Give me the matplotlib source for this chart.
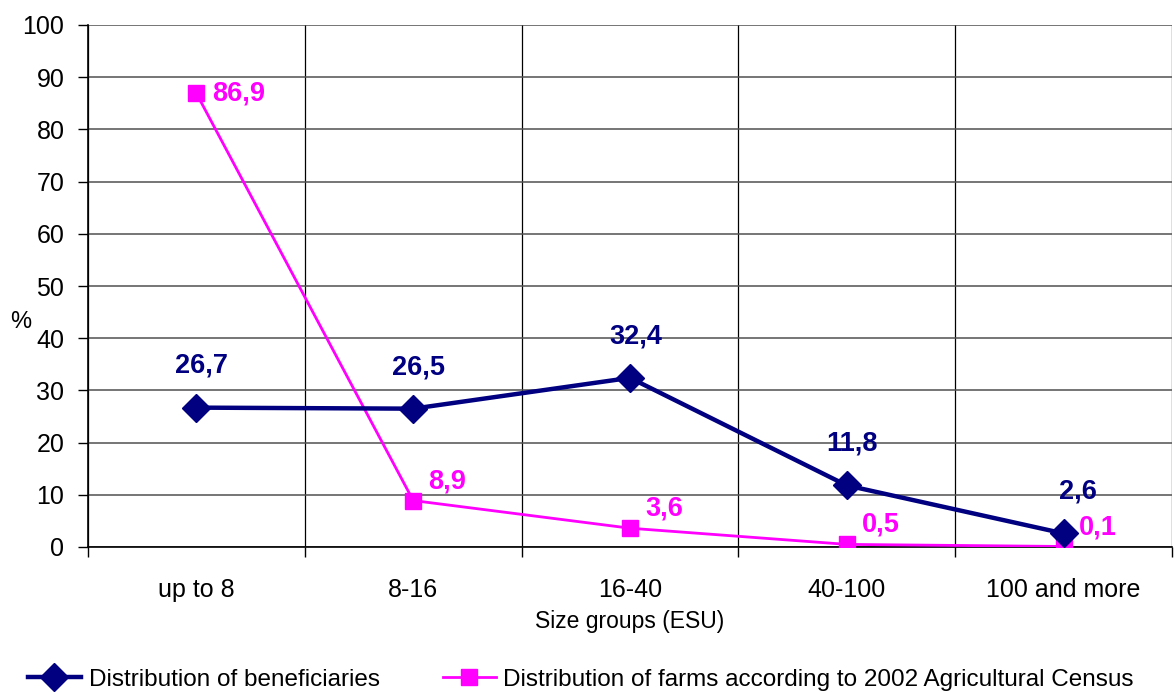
import matplotlib
matplotlib.use("Agg")
import matplotlib.pyplot as plt
from matplotlib.ticker import FixedLocator, NullFormatter

plt.rcParams['font.family'] = ['Liberation Sans', 'DejaVu Sans']

# 데이터
size_groups = ["up to 8", "8-16", "16-40", "40-100", "100 and more"]
beneficiaries = [26.7, 26.5, 32.4, 11.8, 2.6]
farms_census = [86.9, 8.9, 3.6, 0.5, 0.1]

NAVY = "#000080"
MAGENTA = "#FF00FF"

fig = plt.figure(figsize=(11.74, 6.92), dpi=100)
ax = fig.add_axes([88 / 1174, 1 - 547 / 692, (1172 - 88) / 1174, (547 - 25) / 692])

x = list(range(len(size_groups)))

ax.plot(x, beneficiaries, color=NAVY, lw=3.2, marker='D', ms=14,
        label="Distribution of beneficiaries", zorder=4)
ax.plot(x, farms_census, color=MAGENTA, lw=2, marker='s', ms=11,
        label="Distribution of farms according to 2002 Agricultural Census", zorder=3)

# 값 라벨
for i, v in enumerate(beneficiaries):
    dx = 10 if i == len(beneficiaries) - 1 else 4
    ax.annotate(f"{v:.1f}".replace(".", ","), (i, v), xytext=(dx, 30),
                textcoords="offset points", ha="center", va="center",
                color=NAVY, fontsize=19.5, fontweight="bold")
for i, v in enumerate(farms_census):
    dy = 0 if i == 0 else 14
    ax.annotate(f"{v:.1f}".replace(".", ","), (i, v), xytext=(11, dy),
                textcoords="offset points", ha="left", va="center",
                color=MAGENTA, fontsize=19.5, fontweight="bold")

ax.set_xlim(-0.5, len(size_groups) - 0.5)
ax.set_ylim(0, 100)
ax.set_yticks(range(0, 101, 10))
ax.set_xticks(x)
ax.set_xticklabels(size_groups)
ax.xaxis.set_minor_locator(FixedLocator([i + 0.5 for i in range(-1, len(size_groups))]))
ax.xaxis.set_minor_formatter(NullFormatter())
ax.tick_params(axis='x', which='major', length=0, labelsize=18, pad=22)
ax.tick_params(axis='x', which='minor', length=7, width=1)
ax.tick_params(axis='y', length=7, width=1, labelsize=18, pad=10)

ax.grid(True, axis='y', color='#505050', lw=1.1)
ax.grid(True, axis='x', which='minor', color='black', lw=0.9)
ax.set_axisbelow(True)

for s in ['top', 'right']:
    ax.spines[s].set_visible(False)
ax.spines['left'].set_linewidth(1.2)
ax.spines['bottom'].set_linewidth(1.2)

ax.set_xlabel("Size groups (ESU)", fontsize=16.5, labelpad=6)
ax.set_ylabel("%", fontsize=17, rotation=0, labelpad=12)
ax.yaxis.set_label_coords(-0.062, 0.41)

fig.legend(loc="lower left", bbox_to_anchor=(0.005, -0.03), ncol=2, frameon=False,
           fontsize=17.5, handlelength=2.2, handletextpad=0.3, columnspacing=2.6)

fig.savefig("out.png", dpi=100)
